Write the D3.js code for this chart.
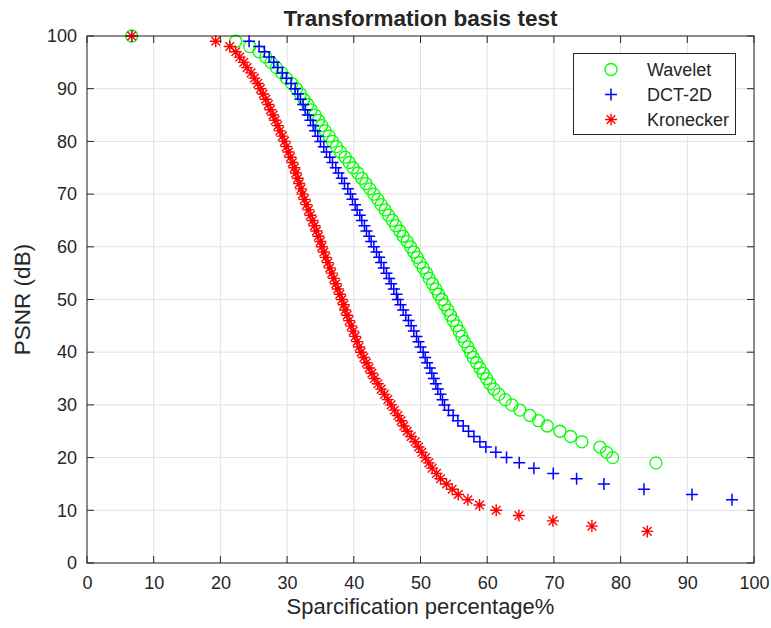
<!DOCTYPE html>
<html>
<head>
<meta charset="utf-8">
<script src="https://cdn.jsdelivr.net/npm/d3@7"></script>
<style>
  html, body { margin: 0; padding: 0; background: #fff; }
  svg { display: block; }
  text { font-family: "Liberation Sans", Arial, Helvetica, sans-serif; fill: #262626; }
</style>
</head>
<body>
<svg id="chart" width="771" height="628"></svg>
<script>
// ---- data ----
const xTicks = [0, 10, 20, 30, 40, 50, 60, 70, 80, 90, 100];
const yTicks = [0, 10, 20, 30, 40, 50, 60, 70, 80, 90, 100];
const seriesNames = ["Wavelet", "DCT-2D", "Kronecker"];

// PSNR (dB), one point per integer level
const waveletPSNR = d3.range(100, 18, -1);
const waveletSparc = [6.7, 22.3, 24.4, 25.8, 26.8, 27.6, 28.4, 29.2, 29.9, 30.7,
  31.4, 32.0, 32.5, 33.1, 33.6, 34.2, 34.7, 35.2, 35.7, 36.3,
  36.8, 37.4, 38.0, 38.7, 39.3, 39.9, 40.6, 41.2, 41.8, 42.4,
  43.0, 43.6, 44.1, 44.7, 45.2, 45.8, 46.3, 46.9, 47.4, 48.0,
  48.5, 49.0, 49.5, 49.9, 50.4, 50.9, 51.3, 51.8, 52.3, 52.7,
  53.2, 53.6, 54.1, 54.5, 54.9, 55.4, 55.8, 56.2, 56.6, 57.1,
  57.5, 57.9, 58.4, 58.9, 59.4, 59.9, 60.4, 61.0, 61.75, 62.7,
  63.7, 64.9, 66.4, 67.7, 69.0, 70.9, 72.5, 74.2, 76.9, 77.9,
  78.8, 85.3];

const dctPSNR = d3.range(100, 11, -1);
const dctSparc = [6.7, 24.3, 25.8, 26.6, 27.3, 28.0, 28.6, 29.3, 29.9, 30.6,
  31.2, 31.6, 32.0, 32.4, 32.7, 33.1, 33.5, 33.9, 34.2, 34.6,
  35.0, 35.5, 35.9, 36.4, 36.8, 37.3, 37.7, 38.2, 38.6, 39.1,
  39.5, 39.8, 40.2, 40.5, 40.9, 41.2, 41.6, 41.9, 42.3, 42.6,
  43.0, 43.4, 43.8, 44.1, 44.5, 44.9, 45.3, 45.6, 46.0, 46.4,
  46.6, 47.0, 47.4, 47.8, 48.2, 48.6, 49.0, 49.4, 49.7, 50.0,
  50.4, 50.7, 51.0, 51.4, 51.7, 52.0, 52.3, 52.6, 53.0, 53.3,
  53.6, 54.2, 54.9, 55.6, 56.4, 57.2, 58.0, 58.9, 59.8, 61.3,
  62.9, 64.8, 67.0, 69.9, 73.4, 77.5, 83.5, 90.7, 96.7];

const kronPSNR = d3.range(100, 5, -1);
const kronSparc = [6.7, 19.3, 21.4, 22.3, 22.9, 23.5, 24.0, 24.6, 25.1, 25.6,
  26.0, 26.4, 26.8, 27.2, 27.5, 27.9, 28.2, 28.6, 28.9, 29.3,
  29.6, 29.9, 30.2, 30.5, 30.8, 31.1, 31.3, 31.6, 31.8, 32.1,
  32.3, 32.6, 32.9, 33.2, 33.5, 33.8, 34.1, 34.4, 34.7, 35.0,
  35.2, 35.5, 35.8, 36.1, 36.4, 36.7, 37.0, 37.3, 37.6, 37.9,
  38.2, 38.5, 38.7, 39.0, 39.3, 39.6, 39.9, 40.2, 40.5, 40.8,
  41.1, 41.5, 41.9, 42.3, 42.7, 43.1, 43.6, 44.1, 44.6, 45.1,
  45.6, 46.1, 46.6, 47.1, 47.5, 48.0, 48.6, 49.2, 49.7, 50.2,
  50.75, 51.25, 51.75, 52.4, 53.0, 53.9, 54.75, 55.65, 57.1, 58.85,
  61.35, 64.75, 69.85, 75.7, 84.0];

// ---- layout ----
const svg = d3.select("#chart");
const L = 87, R = 754, T = 36, B = 563;
const x = d3.scaleLinear().domain([0, 100]).range([L, R]);
const y = d3.scaleLinear().domain([0, 100]).range([B, T]);
const axisColor = "#262626";
const tickLen = 7;

// grid
const grid = svg.append("g");
grid.selectAll("line.gx").data(xTicks).join("line")
  .attr("x1", d => x(d)).attr("x2", d => x(d)).attr("y1", T).attr("y2", B)
  .attr("stroke", "#e3e3e3").attr("stroke-width", 1);
grid.selectAll("line.gy").data(yTicks).join("line")
  .attr("y1", d => y(d)).attr("y2", d => y(d)).attr("x1", L).attr("x2", R)
  .attr("stroke", "#e3e3e3").attr("stroke-width", 1);

// markers
const markers = {
  circle: (g, c) => g.append("circle").attr("r", 6).attr("fill", "none").attr("stroke", c).attr("stroke-width", 1.3),
  plus: (g, c) => g.append("path").attr("d", "M-6,0H6M0,-6V6").attr("fill", "none").attr("stroke", c).attr("stroke-width", 1.5),
  star: (g, c) => g.append("path").attr("d", "M-6,0H6M0,-6V6M-4.3,-4.3L4.3,4.3M-4.3,4.3L4.3,-4.3").attr("fill", "none").attr("stroke", c).attr("stroke-width", 1.4)
};

const series = [
  { name: seriesNames[0], xs: waveletSparc, ys: waveletPSNR, color: "#00ff00", marker: "circle" },
  { name: seriesNames[1], xs: dctSparc, ys: dctPSNR, color: "#0000ff", marker: "plus" },
  { name: seriesNames[2], xs: kronSparc, ys: kronPSNR, color: "#ff0000", marker: "star" }
];

const plot = svg.append("g");
series.forEach(s => {
  const g = plot.append("g");
  s.xs.forEach((xv, i) => {
    const m = g.append("g").attr("transform", `translate(${x(xv)},${y(s.ys[i])})`);
    markers[s.marker](m, s.color);
  });
});

// axes (box with ticks on all sides)
const xAxisB = d3.axisBottom(x).tickValues(xTicks).tickSize(0).tickPadding(13);
const gxb = svg.append("g").attr("transform", `translate(0,${B})`).call(xAxisB);
gxb.select(".domain").remove();
gxb.selectAll("text").attr("font-size", 18).attr("fill", axisColor)
  .attr("font-family", "Liberation Sans, Arial, sans-serif");

const yAxisL = d3.axisLeft(y).tickValues(yTicks).tickSize(0).tickPadding(10);
const gyl = svg.append("g").attr("transform", `translate(${L},0)`).call(yAxisL);
gyl.select(".domain").remove();
gyl.selectAll("text").attr("font-size", 18).attr("fill", axisColor)
  .attr("font-family", "Liberation Sans, Arial, sans-serif");

const ticks = svg.append("g").attr("stroke", axisColor).attr("stroke-width", 1);
xTicks.forEach(d => {
  ticks.append("line").attr("x1", x(d)).attr("x2", x(d)).attr("y1", B).attr("y2", B - tickLen);
  ticks.append("line").attr("x1", x(d)).attr("x2", x(d)).attr("y1", T).attr("y2", T + tickLen);
});
yTicks.forEach(d => {
  ticks.append("line").attr("y1", y(d)).attr("y2", y(d)).attr("x1", L).attr("x2", L + tickLen);
  ticks.append("line").attr("y1", y(d)).attr("y2", y(d)).attr("x1", R).attr("x2", R - tickLen);
});
svg.append("rect").attr("x", L).attr("y", T).attr("width", R - L).attr("height", B - T)
  .attr("fill", "none").attr("stroke", axisColor).attr("stroke-width", 1);

// labels
svg.append("text").attr("x", (L + R) / 2).attr("y", 26).attr("text-anchor", "middle")
  .attr("font-size", 22.5).attr("font-weight", "bold").attr("fill", "#000")
  .text("Transformation basis test");
svg.append("text").attr("x", (L + R) / 2).attr("y", 614).attr("text-anchor", "middle")
  .attr("font-size", 22).text("Sparcification percentage%");
svg.append("text").attr("transform", `translate(30,${(T + B) / 2}) rotate(-90)`)
  .attr("text-anchor", "middle").attr("font-size", 22.5).text("PSNR (dB)");

// legend
const lg = svg.append("g");
lg.append("rect").attr("x", 573.5).attr("y", 53.5).attr("width", 162).attr("height", 81)
  .attr("fill", "#fff").attr("stroke", axisColor).attr("stroke-width", 1);
series.forEach((s, i) => {
  const cy = 69.5 + i * 25;
  const m = lg.append("g").attr("transform", `translate(611,${cy})`);
  markers[s.marker](m, s.color);
  lg.append("text").attr("x", 647).attr("y", cy).attr("dy", "0.35em")
    .attr("font-size", 18).text(s.name);
});
</script>
</body>
</html>
